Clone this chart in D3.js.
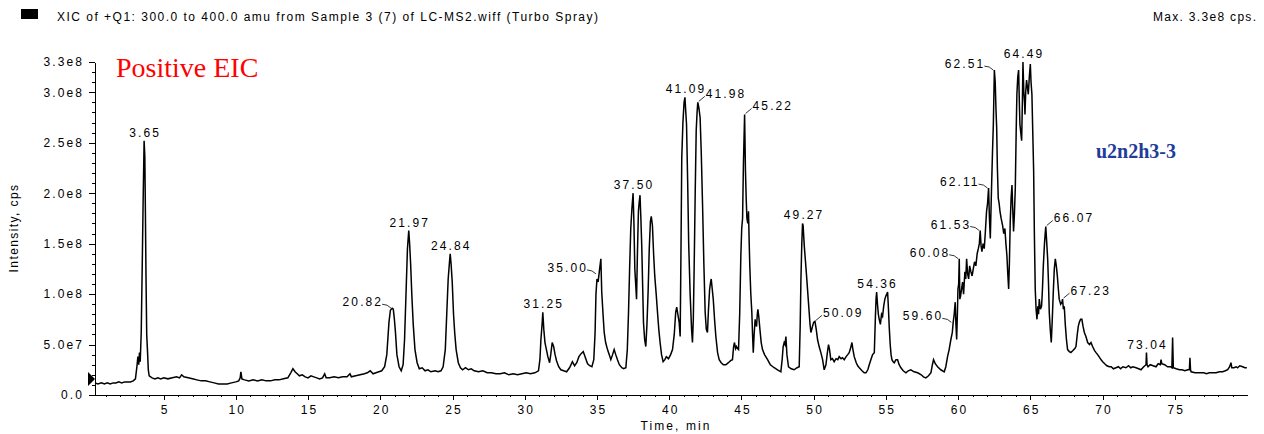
<!DOCTYPE html>
<html>
<head>
<meta charset="utf-8">
<script src="https://cdn.jsdelivr.net/npm/d3@7"></script>
<style>
  html, body { margin: 0; padding: 0; background: #fff; }
  svg { display: block; }
  .lbl { font-family: "Liberation Sans", Arial, sans-serif; font-size: 12px; letter-spacing: 2.1px; fill: #000; }
  .axis text { font-family: "Liberation Sans", Arial, sans-serif; font-size: 12px; letter-spacing: 2.1px; fill: #000; }
  .axis path, .axis line { stroke: #000; stroke-width: 1; shape-rendering: crispEdges; }
</style>
</head>
<body>
<svg id="chart" width="1264" height="434"></svg>
<script>
// ---------------- data ----------------
const headerText = "XIC of +Q1: 300.0 to 400.0 amu from Sample 3 (7) of LC-MS2.wiff (Turbo Spray)";
const maxText = "Max. 3.3e8 cps.";
const titleText = "Positive EIC";
const sampleText = "u2n2h3-3";
const xAxisTitle = "Time, min";
const yAxisTitle = "Intensity, cps";

const xTickValues = [5, 10, 15, 20, 25, 30, 35, 40, 45, 50, 55, 60, 65, 70, 75];
const yTickValues = [0, 50, 100, 150, 200, 250, 300, 330];           // x 1e6 cps
const yTickLabels = ["0.0", "5.0e7", "1.0e8", "1.5e8", "2.0e8", "2.5e8", "3.0e8", "3.3e8"];

// trace: [retention time (min), intensity (x 1e6 cps)]
const eicTrace = [
[0.25,12],[0.45,11],[0.7,12],[0.9,11],[1.1,12],[1.3,11],[1.5,12],[1.7,12],[1.9,13],[2.1,12],[2.3,13],[2.5,13],[2.7,13],[2.9,14],
[3.05,16],[3.15,28],[3.22,38],[3.28,30],[3.33,42],[3.38,33],[3.45,62],[3.52,128],[3.58,190],[3.65,252],[3.7,236],[3.74,180],[3.78,118],[3.83,60],[3.88,45],[3.94,25],
[4.0,19],[4.2,17],[4.4,16],[4.6,17],[4.8,16],[5.0,17],[5.3,16],[5.6,17],[5.9,18],[6.1,17],[6.25,20],[6.4,18],[6.7,17],[7.0,16],[7.3,15],[7.6,14],[7.9,14],[8.2,13],[8.5,12],[8.8,11],[9.1,11],[9.4,11],[9.7,12],
[10.0,13],[10.2,14],[10.3,17],[10.35,23],[10.42,16],[10.6,15],[10.9,14],[11.2,15],[11.5,14],[11.8,15],[12.1,14],[12.4,14],[12.7,15],[13.0,15],[13.3,16],[13.6,17],[13.8,22],[13.95,26],[14.1,23],[14.25,21],[14.4,19],[14.6,20],[14.8,18],
[15.0,17],[15.2,19],[15.4,18],[15.6,17],[15.8,16],[16.0,17],[16.15,21],[16.25,17],[16.5,17],[16.8,18],[17.1,17],[17.4,18],[17.7,18],[17.9,21],[18.0,18],[18.3,19],[18.6,20],[18.9,21],[19.1,22],[19.3,24],[19.5,21],[19.7,22],[19.9,23],
[20.1,24],[20.3,28],[20.45,40],[20.6,72],[20.7,84],[20.82,86],[20.9,85],[20.97,76],[21.05,62],[21.15,40],[21.3,28],[21.45,24],[21.58,30],[21.68,55],[21.78,100],[21.88,145],[21.97,163],[22.03,150],[22.1,130],[22.18,100],[22.28,70],[22.4,45],[22.55,32],[22.7,26],[22.9,27],
[23.1,24],[23.3,25],[23.5,23],[23.8,24],[24.0,23],[24.2,24],[24.35,28],[24.5,45],[24.6,80],[24.7,115],[24.78,130],[24.84,140],[24.9,130],[24.98,112],[25.07,80],[25.15,62],[25.25,45],[25.4,32],[25.55,27],[25.7,25],[25.9,27],
[26.1,25],[26.3,26],[26.5,24],[26.8,23],[27.1,24],[27.4,22],[27.7,22],[28.0,21],[28.3,21],[28.6,22],[28.9,20],[29.2,21],[29.5,20],[29.8,21],[30.1,22],[30.4,21],[30.7,22],[30.95,24],
[31.05,35],[31.12,55],[31.2,70],[31.25,82],[31.32,65],[31.4,52],[31.5,45],[31.6,38],[31.72,32],[31.8,40],[31.9,52],[32.0,48],[32.1,40],[32.2,34],[32.35,28],[32.5,25],[32.7,24],[32.9,23],
[33.1,27],[33.3,33],[33.45,29],[33.6,32],[33.75,38],[33.9,41],[34.05,43],[34.2,37],[34.35,31],[34.5,29],[34.65,28],[34.78,35],[34.87,62],[34.93,100],[35.0,115],[35.08,112],[35.16,122],[35.27,135],[35.33,102],[35.42,80],[35.5,62],[35.6,52],[35.73,45],[35.85,40],[35.96,35],
[36.08,40],[36.19,45],[36.3,40],[36.42,35],[36.55,30],[36.72,27],[36.85,26],[37.0,27],[37.1,45],[37.18,80],[37.26,125],[37.34,165],[37.42,185],[37.5,200],[37.56,170],[37.62,125],[37.68,110],[37.74,95],[37.8,140],[37.87,182],[37.93,192],[37.98,198],
[38.04,175],[38.1,148],[38.16,110],[38.22,72],[38.3,55],[38.38,48],[38.46,70],[38.54,102],[38.62,145],[38.7,172],[38.76,177],[38.84,168],[38.92,140],[39.0,118],[39.1,100],[39.19,82],[39.28,65],[39.37,52],[39.47,40],[39.58,33],[39.7,35],[39.8,38],[39.95,36],
[40.1,40],[40.23,45],[40.35,60],[40.45,82],[40.52,87],[40.6,80],[40.69,72],[40.76,58],[40.82,150],[40.87,235],[40.95,270],[41.03,290],[41.09,295],[41.15,280],[41.2,268],[41.28,210],[41.35,150],[41.45,100],[41.55,65],[41.61,52],[41.67,75],[41.73,128],[41.8,200],[41.87,262],[41.93,280],[41.98,290],
[42.05,285],[42.14,275],[42.22,240],[42.31,188],[42.4,130],[42.49,82],[42.57,65],[42.65,62],[42.72,85],[42.8,105],[42.87,112],[42.91,115],[42.98,105],[43.05,95],[43.14,75],[43.23,58],[43.35,42],[43.46,35],[43.6,32],[43.75,30],[43.92,30],
[44.1,32],[44.25,34],[44.38,35],[44.46,48],[44.52,52],[44.6,46],[44.66,48],[44.73,46],[44.8,45],[44.88,80],[44.96,138],[45.02,165],[45.08,175],[45.14,230],[45.22,278],[45.28,222],[45.33,195],[45.38,175],[45.44,170],[45.49,182],[45.54,150],[45.58,128],[45.65,100],[45.72,82],[45.77,60],[45.82,42],[45.88,60],[45.95,75],
[46.0,70],[46.05,68],[46.1,80],[46.14,85],[46.2,78],[46.28,65],[46.37,52],[46.46,45],[46.6,40],[46.81,35],[47.0,30],[47.27,27],[47.5,25],[47.73,23],[47.82,35],[47.89,48],[47.96,52],[48.02,50],[48.08,58],[48.15,40],[48.26,28],[48.45,26],[48.65,25],[48.85,27],
[49.0,28],[49.07,70],[49.12,115],[49.18,150],[49.23,170],[49.27,168],[49.35,148],[49.42,135],[49.51,118],[49.6,100],[49.69,82],[49.75,70],[49.81,62],[49.87,65],[49.92,68],[50.0,72],[50.09,73],[50.18,65],[50.27,55],[50.38,48],[50.5,42],[50.62,35],[50.73,25],[50.85,30],[50.95,42],
[51.03,50],[51.1,45],[51.19,35],[51.3,36],[51.42,33],[51.55,36],[51.67,35],[51.77,38],[51.9,36],[52.0,37],[52.12,35],[52.25,38],[52.36,40],[52.46,42],[52.55,46],[52.65,52],[52.72,45],[52.81,38],[52.95,32],
[53.05,29],[53.16,27],[53.35,24],[53.5,22],[53.62,22],[53.75,25],[53.85,30],[53.96,35],[54.08,40],[54.2,42],[54.27,75],[54.32,95],[54.36,102],[54.42,90],[54.48,80],[54.54,75],[54.62,70],[54.7,80],[54.77,78],[54.85,88],[54.93,95],
[55.0,98],[55.06,100],[55.12,102],[55.18,85],[55.23,68],[55.3,50],[55.36,40],[55.42,35],[55.5,33],[55.58,32],[55.7,35],[55.81,35],[55.92,30],[56.04,27],[56.2,24],[56.39,22],[56.55,24],[56.73,25],[56.95,23],
[57.2,22],[57.45,20],[57.6,18],[57.77,17],[57.95,19],[58.12,22],[58.22,30],[58.3,35],[58.42,31],[58.58,28],[58.8,25],[59.04,23],[59.15,28],[59.27,38],[59.38,45],[59.5,55],[59.6,62],[59.66,72],[59.73,80],[59.8,92],[59.85,70],[59.9,55],[59.95,80],[59.99,105],
[60.04,110],[60.08,135],[60.12,95],[60.17,98],[60.24,105],[60.31,112],[60.38,100],[60.47,122],[60.53,115],[60.59,135],[60.66,120],[60.73,115],[60.8,128],[60.89,122],[60.97,118],[61.05,125],[61.14,132],[61.23,128],[61.32,140],[61.4,145],[61.47,150],[61.53,163],[61.59,148],[61.65,142],[61.73,150],[61.81,145],[61.88,160],[61.97,182],
[62.04,190],[62.11,205],[62.17,175],[62.23,155],[62.28,185],[62.32,208],[62.38,240],[62.44,268],[62.51,322],[62.57,310],[62.63,280],[62.67,265],[62.72,225],[62.78,195],[62.84,190],[62.9,182],[62.98,175],
[63.08,168],[63.16,160],[63.24,165],[63.31,150],[63.38,138],[63.44,120],[63.5,105],[63.55,130],[63.61,172],[63.67,195],[63.73,208],[63.78,185],[63.84,162],[63.9,180],[63.96,205],
[64.02,260],[64.07,298],[64.13,315],[64.19,322],[64.24,290],[64.28,268],[64.34,260],[64.4,252],[64.45,290],[64.49,330],[64.55,300],[64.6,290],[64.63,278],[64.68,300],[64.74,312],[64.8,305],[64.86,298],[64.93,315],
[65.0,328],[65.05,310],[65.11,298],[65.17,260],[65.23,222],[65.28,160],[65.34,105],[65.4,85],[65.46,75],[65.52,88],[65.57,80],[65.62,95],[65.7,85],[65.78,88],[65.84,105],[65.9,128],[65.98,150],
[66.03,160],[66.07,167],[66.14,150],[66.2,135],[66.26,110],[66.31,82],[66.38,65],[66.45,52],[66.52,75],[66.59,102],[66.66,125],[66.73,135],[66.8,128],[66.87,118],[66.94,105],
[67.0,95],[67.1,90],[67.19,92],[67.23,95],[67.29,85],[67.35,88],[67.42,70],[67.5,55],[67.58,45],[67.7,43],[67.81,42],[67.95,44],[68.08,46],[68.16,48],[68.25,60],[68.32,68],[68.39,72],[68.48,75],[68.57,75],[68.65,68],[68.74,62],[68.85,58],[68.97,52],
[69.1,50],[69.2,52],[69.31,48],[69.45,44],[69.55,42],[69.66,40],[69.8,37],[69.9,35],[70.01,33],[70.15,31],[70.3,29],[70.47,28],[70.6,28],[70.75,26],[70.93,27],[71.1,28],[71.25,26],[71.4,28],[71.62,27],[71.8,29],[71.95,27],
[72.1,28],[72.32,27],[72.5,26],[72.66,25],[72.85,28],[73.01,30],[73.04,42],[73.08,30],[73.15,28],[73.3,30],[73.5,29],[73.7,28],[73.85,31],[74.0,30],[74.05,35],[74.1,31],[74.3,30],[74.5,28],[74.7,28],[74.8,27],[74.85,57],[74.9,27],
[75.1,26],[75.32,25],[75.5,25],[75.7,24],[75.9,25],[76.01,25],[76.05,37],[76.09,25],[76.13,23],[76.4,22],[76.7,22],[77.0,22],[77.2,21],[77.39,22],[77.6,22],[77.86,22],[78.1,23],[78.32,23],[78.5,24],[78.66,25],[78.8,28],[78.89,32],[78.95,27],[79.1,27],[79.25,28],[79.35,27],[79.5,29],[79.7,28],[79.85,27],[79.99,27]
];

// peak annotations: label text, retention time, apex intensity (x 1e6), placement
const peakLabels = ["3.65","20.82","21.97","24.84","31.25","35.00","37.50","41.09","41.98","45.22","49.27","50.09","54.36","59.60","60.08","61.53","62.11","62.51","64.49","66.07","67.23","73.04"];
const peakTimes  = [3.65, 20.82, 21.97, 24.84, 31.25, 35.00, 37.50, 41.09, 41.98, 45.22, 49.27, 50.09, 54.36, 59.60, 60.08, 61.53, 62.11, 62.51, 64.49, 66.07, 67.23, 73.04];
const peakHeights = [252, 86, 163, 140, 82, 120, 200, 295, 290, 278, 170, 73, 102, 72, 135, 163, 205, 322, 330, 167, 95, 42];
const peakPlacement = ["top","left","top","top","top","left","top","top","right","right","top","right","top","left","left","left","left","left","top","right","right","top"];

// ---------------- drawing ----------------
const svg = d3.select("#chart");
const x = d3.scaleLinear().domain([0.25, 80]).range([95, 1247]);
const y = d3.scaleLinear().domain([0, 330]).range([395, 62]);

// header
svg.append("rect").attr("x", 21).attr("y", 9).attr("width", 17).attr("height", 10).attr("fill", "#000");
svg.append("text").attr("x", 57).attr("y", 21)
  .attr("textLength", 541).attr("lengthAdjust", "spacing")
  .style("font-family", "'Liberation Sans', Arial, sans-serif").style("font-size", "12px").attr("fill", "#000")
  .text(headerText);
svg.append("text").attr("x", 1153).attr("y", 21)
  .attr("textLength", 103).attr("lengthAdjust", "spacing")
  .style("font-family", "'Liberation Sans', Arial, sans-serif").style("font-size", "12px").attr("fill", "#000")
  .text(maxText);

// axes
const gx = svg.append("g").attr("class", "axis").attr("transform", "translate(0,395)");
gx.call(d3.axisBottom(x).tickValues(d3.range(1, 80)).tickSize(2).tickSizeOuter(0).tickFormat(""));
const gx2 = svg.append("g").attr("class", "axis").attr("transform", "translate(0,395)");
gx2.call(d3.axisBottom(x).tickValues(xTickValues).tickSize(5).tickSizeOuter(0).tickPadding(5).tickFormat(d3.format("d")));
gx2.selectAll("text").attr("dx", "1px");

const gy = svg.append("g").attr("class", "axis").attr("transform", "translate(95,0)");
gy.call(d3.axisLeft(y).tickValues(d3.range(0, 331, 10)).tickSize(3).tickSizeOuter(0).tickFormat(""));
const gy2 = svg.append("g").attr("class", "axis").attr("transform", "translate(95,0)");
gy2.call(d3.axisLeft(y).tickValues(yTickValues).tickSize(6).tickSizeOuter(0).tickPadding(5)
  .tickFormat((d, i) => yTickLabels[i]));
gy2.select(".domain").remove();

// axis titles
svg.append("text").attr("class", "lbl").attr("text-anchor", "middle")
  .attr("x", 676).attr("y", 430).text(xAxisTitle);
svg.append("text").attr("class", "lbl").attr("text-anchor", "middle")
  .attr("transform", "translate(18,228) rotate(-90)").style("letter-spacing", "1.4px").text(yAxisTitle);

// marker triangle
svg.append("path").attr("d", "M88,372L95,379L88,386Z").attr("fill", "#000");

// trace
const line = d3.line().x(d => x(d[0])).y(d => y(d[1]));
svg.append("path").datum(eicTrace).attr("d", line)
  .attr("fill", "none").attr("stroke", "#000").attr("stroke-width", 1.5).attr("stroke-linejoin", "miter");

// peak labels
const pk = peakLabels.map((t, i) => ({ text: t, px: x(peakTimes[i]), py: y(peakHeights[i]), kind: peakPlacement[i] }));
pk.forEach(p => {
  if (p.kind === "top") {
    svg.append("text").attr("class", "lbl").attr("text-anchor", "middle")
      .attr("x", p.px + 1).attr("y", p.py - 4).text(p.text);
  } else if (p.kind === "left") {
    svg.append("path").attr("d", `M${p.px - 1},${p.py}L${p.px - 5},${p.py - 3}L${p.px - 10},${p.py - 4}`)
      .attr("fill", "none").attr("stroke", "#000").attr("stroke-width", 0.8);
    svg.append("text").attr("class", "lbl").attr("text-anchor", "end")
      .attr("x", p.px - 9).attr("y", p.py - 2).text(p.text);
  } else {
    svg.append("path").attr("d", `M${p.px + 1},${p.py - 1}L${p.px + 7},${p.py - 6}`)
      .attr("fill", "none").attr("stroke", "#000").attr("stroke-width", 0.8);
    svg.append("text").attr("class", "lbl").attr("text-anchor", "start")
      .attr("x", p.px + 8).attr("y", p.py - 4).text(p.text);
  }
});

// annotations
svg.append("text").attr("x", 116).attr("y", 77)
  .style("font-family", "'Liberation Serif', 'Times New Roman', serif").style("font-size", "28px")
  .attr("fill", "#ff0000").text(titleText);
svg.append("text").attr("x", 1096).attr("y", 158)
  .style("font-family", "'Liberation Serif', 'Times New Roman', serif").style("font-size", "20px").style("font-weight", "bold")
  .attr("fill", "#1f3c9a").text(sampleText);
</script>
</body>
</html>
